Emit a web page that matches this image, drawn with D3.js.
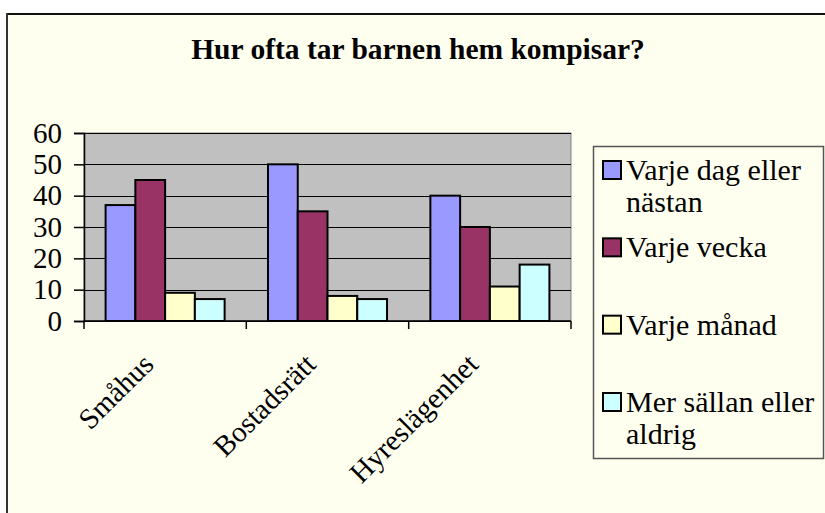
<!DOCTYPE html>
<html>
<head>
<meta charset="utf-8">
<script src="https://cdn.jsdelivr.net/npm/d3@7"></script>
<style>
  html, body { margin: 0; padding: 0; background: #fff; }
  svg { display: block; }
</style>
</head>
<body>
<div id="chart"></div>
<script>
// data
const categories = ["Småhus", "Bostadsrätt", "Hyreslägenhet"];
const seriesNames = ["Varje dag eller nästan", "Varje vecka", "Varje månad", "Mer sällan eller aldrig"];
const varjeDag = [37, 50, 40];
const varjeVecka = [45, 35, 30];
const varjeManad = [9, 8, 11];
const merSallan = [7, 7, 18];
const yTicks = [0, 10, 20, 30, 40, 50, 60];
const legendLines = [["Varje dag eller", "nästan"], ["Varje vecka"], ["Varje månad"], ["Mer sällan eller", "aldrig"]];
const titleText = "Hur ofta tar barnen hem kompisar?";

const seriesValues = [varjeDag, varjeVecka, varjeManad, merSallan];
const colors = ["#9999FF", "#993366", "#FFFFCC", "#CCFFFF"];
const serif = "'Times New Roman', 'Liberation Serif', 'DejaVu Serif', serif";

const width = 825, height = 513;
const plot = { left: 84, right: 571, top: 133, bottom: 321 };

const svg = d3.select("#chart").append("svg")
    .attr("width", width)
    .attr("height", height)
    .attr("font-family", serif)
    .style("font-family", serif);

// chart area (frame only on top and left edges visible)
svg.append("rect")
    .attr("x", 7).attr("y", 14)
    .attr("width", width - 7).attr("height", height - 14)
    .attr("fill", "#FFFFF0");
svg.append("line")
    .attr("x1", 6).attr("x2", width).attr("y1", 14).attr("y2", 14)
    .attr("stroke", "#111").attr("stroke-width", 2);
svg.append("line")
    .attr("x1", 7).attr("x2", 7).attr("y1", 13).attr("y2", height)
    .attr("stroke", "#333").attr("stroke-width", 2);

// title
svg.append("text")
    .attr("x", 418).attr("y", 59)
    .attr("text-anchor", "middle")
    .style("font-family", serif)
    .style("font-size", "29.5px")
    .style("font-weight", "bold")
    .text(titleText);

const x0 = d3.scaleBand()
    .domain(categories)
    .range([plot.left, plot.right])
    .paddingInner(0.267)
    .paddingOuter(0.133);

const x1 = d3.scaleBand()
    .domain(d3.range(seriesNames.length))
    .range([0, x0.bandwidth()]);

const y = d3.scaleLinear()
    .domain([0, 60])
    .range([plot.bottom, plot.top]);

// plot area
svg.append("rect")
    .attr("x", plot.left).attr("y", plot.top)
    .attr("width", plot.right - plot.left).attr("height", plot.bottom - plot.top)
    .attr("fill", "#C0C0C0")
    .attr("stroke", "#808080").attr("stroke-width", 1);

// gridlines
svg.append("g")
    .selectAll("line")
    .data(yTicks)
    .enter().append("line")
    .attr("x1", plot.left).attr("x2", plot.right)
    .attr("y1", d => Math.round(y(d)) + 0.5).attr("y2", d => Math.round(y(d)) + 0.5)
    .attr("stroke", "#000").attr("stroke-width", 1);

// bars
const rows = [];
categories.forEach((c, i) => {
    seriesValues.forEach((vals, s) => rows.push({ cat: c, s: s, v: vals[i] }));
});

svg.append("g")
    .selectAll("rect")
    .data(rows)
    .enter().append("rect")
    .attr("x", d => x0(d.cat) + x1(d.s))
    .attr("y", d => y(d.v))
    .attr("width", x1.bandwidth())
    .attr("height", d => y(0) - y(d.v))
    .attr("fill", d => colors[d.s])
    .attr("stroke", "#000")
    .attr("stroke-width", 2);

// y axis
const yAxis = d3.axisLeft(y)
    .tickValues(yTicks)
    .tickSize(10)
    .tickPadding(12);
const gy = svg.append("g")
    .attr("transform", `translate(${plot.left},0)`)
    .call(yAxis)
    .attr("font-family", serif)
    .attr("font-size", 29);
gy.select(".domain").attr("stroke", "#000").attr("stroke-width", 1.5);
gy.selectAll(".tick line").attr("stroke", "#000").attr("stroke-width", 1.5);
gy.selectAll(".tick text")
    .style("font-family", serif)
    .style("font-size", "29px")
    .attr("fill", "#000");

// x axis: ticks at band boundaries
const xEdges = categories.map(c => x0(c) - x0.step() * x0.paddingInner() / 2);
xEdges[0] = plot.left;
xEdges.push(plot.right);
svg.append("line")
    .attr("x1", plot.left).attr("x2", plot.right)
    .attr("y1", plot.bottom).attr("y2", plot.bottom)
    .attr("stroke", "#000").attr("stroke-width", 1.5);
svg.append("g")
    .selectAll("line")
    .data(xEdges)
    .enter().append("line")
    .attr("x1", d => d).attr("x2", d => d)
    .attr("y1", plot.bottom).attr("y2", plot.bottom + 8)
    .attr("stroke", "#000").attr("stroke-width", 1.5);

svg.append("g")
    .selectAll("text")
    .data(categories)
    .enter().append("text")
    .attr("transform", d => `translate(${x0(d) + x0.bandwidth() / 2 - 10},${plot.bottom + 45}) rotate(-45)`)
    .attr("text-anchor", "end")
    .style("font-family", serif)
    .style("font-size", "29px")
    .text(d => d);

// legend
const legend = svg.append("g");
legend.append("rect")
    .attr("x", 593.5).attr("y", 146.5)
    .attr("width", 230).attr("height", 312)
    .attr("fill", "#FFFFF0")
    .attr("stroke", "#555").attr("stroke-width", 1.5);

const legendY = d3.scalePoint()
    .domain(d3.range(seriesNames.length))
    .range([180, 412]);

const item = legend.selectAll("g.item")
    .data(seriesNames)
    .enter().append("g")
    .attr("class", "item")
    .attr("transform", (d, i) => `translate(0,${legendY(i)})`);

item.append("rect")
    .attr("x", 603).attr("y", -19)
    .attr("width", 18).attr("height", 18)
    .attr("fill", (d, i) => colors[i])
    .attr("stroke", "#000").attr("stroke-width", 2);

item.append("text")
    .attr("x", 626)
    .style("font-family", serif)
    .style("font-size", "30px")
    .selectAll("tspan")
    .data((d, i) => legendLines[i])
    .enter().append("tspan")
    .attr("x", 626)
    .attr("y", (d, j) => j * 31.5)
    .text(d => d);
</script>
</body>
</html>
